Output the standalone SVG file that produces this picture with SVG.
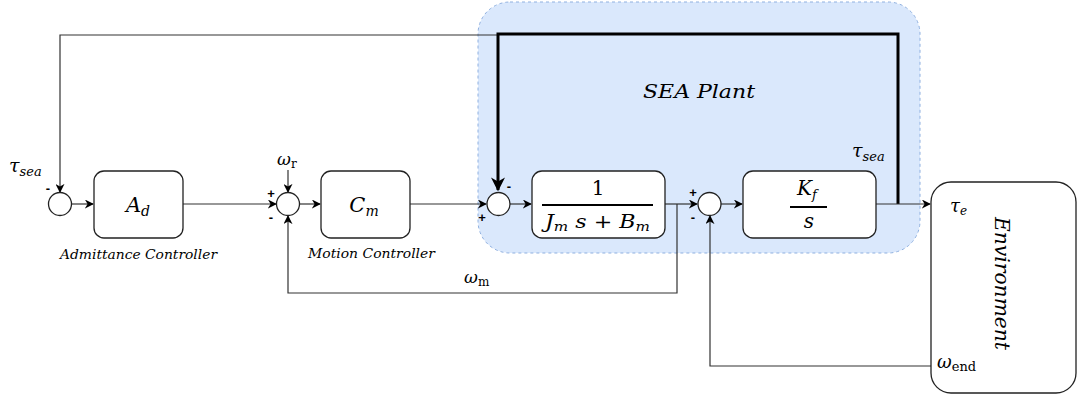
<svg xmlns="http://www.w3.org/2000/svg" width="1080" height="396" viewBox="0 0 1080 396">
<defs>
<marker id="arr" viewBox="0 0 10 10" refX="9" refY="5" markerWidth="9" markerHeight="9" markerUnits="userSpaceOnUse" orient="auto">
<path d="M0,0 L10,5 L0,10 L3,5 z" fill="#000"/>
</marker>
<marker id="arrBig" viewBox="0 0 10 10" refX="9" refY="5" markerWidth="14" markerHeight="14" markerUnits="userSpaceOnUse" orient="auto">
<path d="M0,0 L10,5 L0,10 L3,5 z" fill="#000"/>
</marker>
</defs>
<style>
.blk{fill:#fff;stroke:#222;stroke-width:1.3}
.sum{fill:#fff;stroke:#222;stroke-width:1.3}
.ln{fill:none;stroke:#333;stroke-width:1.2}
.thick{fill:none;stroke:#000;stroke-width:3}
.m{font-family:'DejaVu Serif','Liberation Serif',serif;font-style:italic;fill:#000}
.r{font-family:'DejaVu Serif','Liberation Serif',serif;font-style:normal;fill:#000}
.cap{font-family:'DejaVu Serif','Liberation Serif',serif;font-style:italic;font-size:13px;fill:#000}
.sg{font-family:'Liberation Sans','DejaVu Sans',sans-serif;font-size:13px;font-weight:bold;fill:#000}
</style>
<rect width="1080" height="396" fill="#fff"/>
<g id="sea-plant">
<rect x="478" y="2" width="442" height="251" rx="32" fill="#dae8fc" stroke="#8fb0e0" stroke-width="1" stroke-dasharray="3 3"/>
<text class="m" x="643" y="98" font-size="19" textLength="112" lengthAdjust="spacingAndGlyphs">SEA Plant</text>
</g>
<g id="connectors">
<path class="ln" d="M498,35 H60 V192" marker-end="url(#arr)"/>
<path class="thick" d="M898,204 V34 H498 V190" marker-end="url(#arrBig)"/>
<path class="ln" d="M71.5,204 H93" marker-end="url(#arr)"/>
<path class="ln" d="M183,204 H276" marker-end="url(#arr)"/>
<path class="ln" d="M288,170 V192" marker-end="url(#arr)"/>
<path class="ln" d="M300,204 H320" marker-end="url(#arr)"/>
<path class="ln" d="M410,204 H486" marker-end="url(#arr)"/>
<path class="ln" d="M510,204 H531" marker-end="url(#arr)"/>
<path class="ln" d="M665,204 H697" marker-end="url(#arr)"/>
<path class="ln" d="M677,204 V293 H288 V216" marker-end="url(#arr)"/>
<path class="ln" d="M721,204 H742" marker-end="url(#arr)"/>
<path class="ln" d="M876,204 H930" marker-end="url(#arr)"/>
<path class="ln" d="M931,366 H710 V216" marker-end="url(#arr)"/>
</g>
<g id="sum1">
<circle class="sum" cx="60" cy="204" r="11.5"/>
<text class="sg" x="48" y="193" text-anchor="middle">-</text>
<text class="m" x="9" y="172" font-size="19">τ<tspan font-size="13" dy="4">sea</tspan></text>
</g>
<g id="admittance">
<rect class="blk" x="94" y="171" width="89" height="67" rx="10"/>
<text class="m" x="138" y="212" font-size="21" text-anchor="middle">A<tspan font-size="14" dy="4">d</tspan></text>
<text class="cap" x="60" y="259" textLength="157" lengthAdjust="spacingAndGlyphs">Admittance Controller</text>
</g>
<g id="sum2">
<circle class="sum" cx="288" cy="204" r="11.5"/>
<text class="m" x="277" y="165" font-size="17">ω<tspan class="r" font-size="12" dy="3">r</tspan></text>
<text class="sg" x="271" y="198" text-anchor="middle">+</text>
<text class="sg" x="271" y="222" text-anchor="middle">-</text>
</g>
<g id="motion">
<rect class="blk" x="321" y="171" width="89" height="67" rx="10"/>
<text class="m" x="364" y="212" font-size="21" text-anchor="middle">C<tspan font-size="14" dy="4">m</tspan></text>
<text class="cap" x="308" y="258" textLength="127" lengthAdjust="spacingAndGlyphs">Motion Controller</text>
</g>
<g id="sum3">
<circle class="sum" cx="498.5" cy="204" r="11.5"/>
<text class="sg" x="509" y="191" text-anchor="middle">-</text>
<text class="sg" x="482" y="222" text-anchor="middle">+</text>
</g>
<g id="motor">
<rect class="blk" x="532" y="171" width="133" height="67" rx="10"/>
<text class="r" x="598" y="195" font-size="20" text-anchor="middle">1</text>
<line x1="542" y1="205" x2="653" y2="205" stroke="#000" stroke-width="2"/>
<text class="m" x="545" y="228" font-size="19" textLength="105" lengthAdjust="spacingAndGlyphs">J<tspan font-size="13" dy="3">m</tspan><tspan dy="-3"> s </tspan><tspan class="r">+</tspan><tspan> B</tspan><tspan font-size="13" dy="3">m</tspan></text>
</g>
<g id="sum4">
<circle class="sum" cx="709.5" cy="204" r="11.5"/>
<text class="sg" x="693" y="197" text-anchor="middle">+</text>
<text class="sg" x="693" y="222" text-anchor="middle">-</text>
</g>
<g id="spring">
<rect class="blk" x="743" y="171" width="133" height="67" rx="10"/>
<text class="m" x="807" y="195" font-size="20" text-anchor="middle">K<tspan font-size="13" dy="4">f</tspan></text>
<line x1="790" y1="207" x2="827" y2="207" stroke="#000" stroke-width="2"/>
<text class="m" x="809" y="228" font-size="20" text-anchor="middle">s</text>
<text class="m" x="852" y="157" font-size="19">τ<tspan font-size="13" dy="4">sea</tspan></text>
</g>
<g id="environment">
<rect class="blk" x="931" y="182" width="145" height="211" rx="20"/>
<text class="m" x="950" y="212" font-size="18">τ<tspan font-size="12" dy="3">e</tspan></text>
<text class="m" x="937" y="368" font-size="18">ω<tspan class="r" font-size="13" dy="3">end</tspan></text>
<text class="m" transform="translate(995,217) rotate(90)" font-size="21" textLength="133" lengthAdjust="spacingAndGlyphs">Environment</text>
</g>
<g id="wm-label">
<text class="m" x="464" y="283" font-size="17">ω<tspan class="r" font-size="12" dy="3">m</tspan></text>
</g>
</svg>
